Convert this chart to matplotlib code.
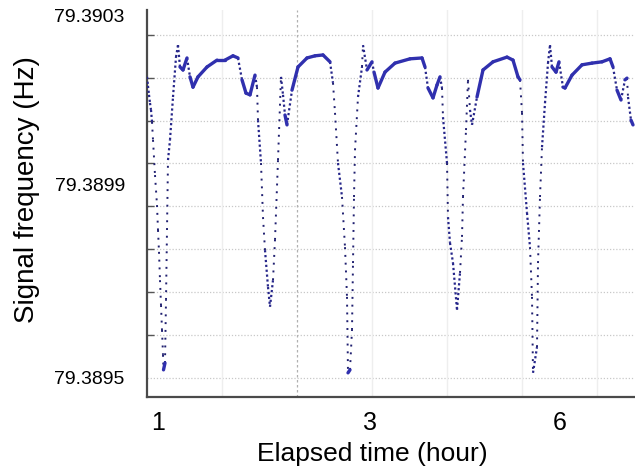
import numpy as np
import matplotlib
matplotlib.use("Agg")
import matplotlib.pyplot as plt
from matplotlib.collections import LineCollection

plt.rcParams['font.family'] = ['Liberation Sans', 'DejaVu Sans']

# ---- data ----
base_freq = 79.3895  # Hz
time_min = [
    0.0, 0.4, 0.8, 1.2, 1.6, 2.0, 2.4, 3.2, 4.0, 4.4, 4.8, 5.2, 5.6, 6.0, 6.4, 6.6,
    7.2, 7.6, 8.0, 8.4, 9.2, 10.4, 11.6, 12.4, 13.2, 14.4, 16.0, 17.2, 18.4, 20.4,
    24.0, 28.0, 31.2, 34.4, 36.4, 38.0, 39.6, 41.2, 43.2, 44.0, 44.4, 45.6, 46.4,
    47.2, 48.4, 49.2, 50.4, 51.2, 52.4, 53.6, 54.4, 55.2, 56.0, 58.0, 60.4, 64.0,
    67.2, 70.4, 73.2, 74.4, 75.2, 76.4, 78.0, 79.2, 80.0, 80.4, 81.2, 82.0, 82.4,
    82.8, 83.2, 84.4, 86.0, 86.4, 88.0, 90.0, 90.8, 92.4, 95.2, 99.2, 105.2, 110.0,
    111.2, 112.4, 114.4, 116.0, 117.2, 118.0, 118.4, 120.0, 120.4, 121.2, 122.4,
    124.0, 125.2, 126.0, 126.4, 127.6, 128.4, 129.2, 130.0, 132.0, 134.4, 138.4,
    144.0, 146.4, 148.4, 149.2, 150.0, 150.4, 152.0, 153.2, 154.0, 154.4, 156.0,
    156.4, 157.2, 158.0, 159.2, 160.4, 161.2, 162.0, 163.6, 164.8, 166.4, 167.2,
    170.0, 174.0, 178.0, 182.0, 185.2, 186.4, 188.0, 189.6, 191.2, 192.0, 192.4,
    193.6, 194.4,
]
offset_uhz = [
    702, 681, 660, 641, 625, 597, 555, 473, 403, 345, 294, 228, 170, 112, 54, 19,
    35, 182, 345, 508, 555, 655, 748, 776, 725, 718, 746, 702, 678, 702,
    725, 741, 741, 751, 746, 695, 664, 660, 706, 678, 601, 501, 375,
    298, 212, 166, 228, 322, 508, 702, 660, 613, 590, 671, 725, 746,
    751, 753, 737, 688, 618, 501, 422, 305, 189, 12, 19, 112, 268,
    422, 531, 655, 725, 776, 718, 737, 713, 676, 713, 734, 744, 746,
    725, 676, 653, 683, 702, 676, 608, 501, 375, 315, 268,
    159, 245, 329, 422, 578, 695, 625, 590, 655, 718, 737,
    748, 741, 702, 695, 618, 501, 385, 305, 189, 12, 72,
    268, 422, 538, 641, 734, 776, 725, 713, 737, 678, 676,
    706, 730, 734, 737, 744, 725, 671, 648, 695, 699, 655,
    601, 590,
]
ytick_labels = ["79.3903", "79.3899", "79.3895"]
ytick_values = [79.390346, 79.38995, 79.3895]
grid_values = [79.3895 + 0.0001 * k for k in range(9)]
xtick_labels = ["1", "3", "6"]
xtick_hours = [0.073, 1.487, 2.753]

t_h = np.array(time_min) / 60.0
freq = base_freq + np.array(offset_uhz) * 1e-6

# ---- figure ----
fig = plt.figure(figsize=(6.35, 4.69), dpi=100)
ax = fig.add_axes([147 / 635, 72 / 469, 1 - 147 / 635, 387 / 469])
ax.set_xlim(0, 195.2 / 60)
ax.set_ylim(79.3894557, 79.3903578)

# grid
for g in grid_values:
    ax.axhline(g, color='#c8c8c8', lw=0.9, ls=(0, (1, 1.5)), zorder=0)
for v in np.arange(0.5, 3.3, 0.5):
    if abs(v - 1.0) < 1e-9:
        ax.axvline(v, color='#b0b0b0', lw=0.9, ls=(0, (2, 2)), zorder=0)
    else:
        ax.axvline(v, color='#eeeeee', lw=1.0, zorder=0)

# curve: shallow parts solid, medium parts dense dots, steep parts sparse dots
fig.canvas.draw()
pts_disp = ax.transData.transform(np.column_stack([t_h, freq]))
segs = np.stack([np.column_stack([t_h[:-1], freq[:-1]]),
                 np.column_stack([t_h[1:], freq[1:]])], axis=1)
dxp = np.maximum(np.abs(np.diff(pts_disp[:, 0])), 1e-6)
dyp = np.abs(np.diff(pts_disp[:, 1]))
slope = dyp / dxp
shallow = slope <= 5
medium = (slope > 5) & (slope <= 15)
steep = slope > 15
ax.add_collection(LineCollection(segs[steep], colors='#202070', linewidths=1.4,
                                 linestyles=[(0, (1, 3))], zorder=3))
ax.add_collection(LineCollection(segs[medium], colors='#26268a', linewidths=1.6,
                                 linestyles=[(0, (1, 1.2))], zorder=3))
ax.add_collection(LineCollection(segs[shallow], colors='#3030ae', linewidths=2.4,
                                 capstyle='round', joinstyle='round', zorder=4))

# spines
for s in ['top', 'right']:
    ax.spines[s].set_visible(False)
for s in ['left', 'bottom']:
    ax.spines[s].set_color('#4a4a4a')
    ax.spines[s].set_linewidth(1.6)

ax.set_yticks(ytick_values)
ax.set_yticklabels(ytick_labels)
ax.set_yticks(grid_values, minor=True)
ax.tick_params(axis='y', which='major', length=0, pad=16, labelsize=14)
ax.tick_params(axis='y', which='minor', direction='in', length=5, width=1, color='#555555')
ax.set_xticks(xtick_hours)
ax.set_xticklabels(xtick_labels)
ax.tick_params(axis='x', which='major', length=0, pad=10, labelsize=18)

ax.set_xlabel('Elapsed time (hour)', fontsize=19)
ax.set_ylabel('Signal frequency (Hz)', fontsize=20)
ax.xaxis.set_label_coords((372 - 147) / 488, -0.115)
ax.yaxis.set_label_coords(-0.219, (397 - 190) / 387)

fig.savefig('out.png', dpi=100)
